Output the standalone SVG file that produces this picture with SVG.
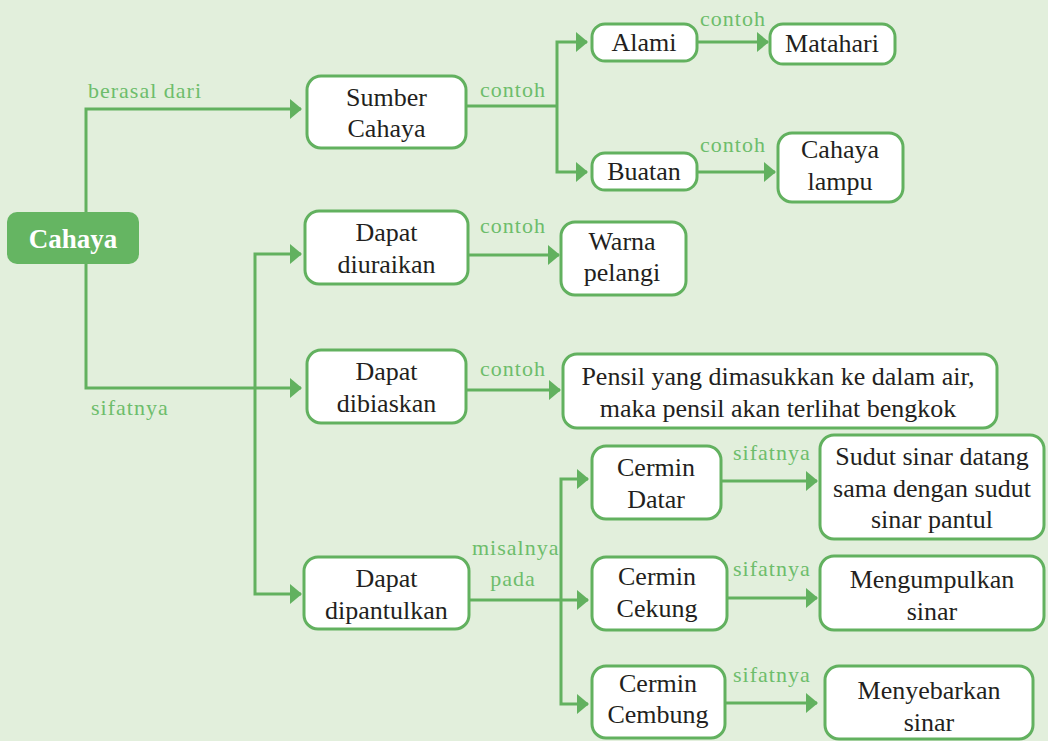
<svg xmlns="http://www.w3.org/2000/svg" width="1048" height="741" viewBox="0 0 1048 741">
<style>
.n rect{fill:#ffffff;stroke:#62b15f;stroke-width:3}
.n text{font-size:26px;fill:#231f20;text-anchor:middle}
.c path{fill:none;stroke:#62b15f;stroke-width:3}
.l{font-family:'Liberation Serif',serif;font-size:22px;fill:#6dbd6b;letter-spacing:1px}
</style>
<defs>
<marker id="ah" markerUnits="userSpaceOnUse" markerWidth="12" markerHeight="20" refX="11" refY="10" orient="auto-start-reverse" viewBox="0 0 12 20">
<path d="M0,0 L12,10 L0,20 z" fill="#62b15f"/>
</marker>
</defs>
<rect width="1048" height="741" fill="#e2efdc"/>
<g id="connectors" class="c">
<path d="M86,212 V109 H301" marker-end="url(#ah)"/>
<path d="M86,264 V388 H301" marker-end="url(#ah)"/>
<path d="M301,254 H255 V594 H301" marker-start="url(#ah)" marker-end="url(#ah)"/>
<path d="M466,106 H557"/>
<path d="M587,42 H557 V172 H587" marker-start="url(#ah)" marker-end="url(#ah)"/>
<path d="M697,42 H768" marker-end="url(#ah)"/>
<path d="M697,172 H775" marker-end="url(#ah)"/>
<path d="M468,255 H559" marker-end="url(#ah)"/>
<path d="M466,390 H560" marker-end="url(#ah)"/>
<path d="M469,600 H588" marker-end="url(#ah)"/>
<path d="M588,479 H561 V704 H588" marker-start="url(#ah)" marker-end="url(#ah)"/>
<path d="M721,481 H817" marker-end="url(#ah)"/>
<path d="M727,598 H817" marker-end="url(#ah)"/>
<path d="M725,703 H817" marker-end="url(#ah)"/>
</g>
<g id="labels">
<text class="l" x="88" y="98">berasal dari</text>
<text class="l" x="91" y="415">sifatnya</text>
<text class="l" x="480" y="97">contoh</text>
<text class="l" x="700" y="26">contoh</text>
<text class="l" x="700" y="152">contoh</text>
<text class="l" x="480" y="233">contoh</text>
<text class="l" x="480" y="376">contoh</text>
<text class="l" x="472" y="555">misalnya</text>
<text class="l" x="513" y="586" text-anchor="middle">pada</text>
<text class="l" x="733" y="460">sifatnya</text>
<text class="l" x="733" y="576">sifatnya</text>
<text class="l" x="733" y="682">sifatnya</text>
</g>
<g id="cahaya">
<rect x="7" y="212" width="132" height="52" rx="10" fill="#65b562"/>
<text x="73" y="248" font-family="Liberation Serif" font-size="27" font-weight="bold" fill="#ffffff" text-anchor="middle">Cahaya</text>
</g>
<g font-family="Liberation Serif">
<g id="sumber" class="n"><rect x="307" y="76" width="159" height="72" rx="14"/><text x="386.5" y="106">Sumber</text><text x="386.5" y="137">Cahaya</text></g>
<g id="alami" class="n"><rect x="592" y="24" width="105" height="37" rx="13"/><text x="644" y="51">Alami</text></g>
<g id="matahari" class="n"><rect x="770" y="24" width="125" height="40" rx="13"/><text x="832" y="52">Matahari</text></g>
<g id="buatan" class="n"><rect x="592" y="153" width="105" height="37" rx="13"/><text x="644" y="180">Buatan</text></g>
<g id="cahaya-lampu" class="n"><rect x="778" y="133" width="125" height="69" rx="14"/><text x="840" y="158">Cahaya</text><text x="840" y="190">lampu</text></g>
<g id="diuraikan" class="n"><rect x="305" y="211" width="163" height="73" rx="14"/><text x="386.5" y="241">Dapat</text><text x="386.5" y="273">diuraikan</text></g>
<g id="warna" class="n"><rect x="561" y="222" width="125" height="73" rx="14"/><text x="622" y="250">Warna</text><text x="622" y="281">pelangi</text></g>
<g id="dibiaskan" class="n"><rect x="307" y="350" width="159" height="73" rx="14"/><text x="386.5" y="380">Dapat</text><text x="386.5" y="412">dibiaskan</text></g>
<g id="pensil" class="n"><rect x="563" y="354" width="434" height="74" rx="14"/><text x="778" y="385">Pensil yang dimasukkan ke dalam air,</text><text x="778" y="417">maka pensil akan terlihat bengkok</text></g>
<g id="dipantulkan" class="n"><rect x="304" y="557" width="165" height="72" rx="14"/><text x="386.5" y="587">Dapat</text><text x="386.5" y="619">dipantulkan</text></g>
<g id="cermin-datar" class="n"><rect x="592" y="446" width="129" height="73" rx="14"/><text x="656" y="476">Cermin</text><text x="656" y="508">Datar</text></g>
<g id="sudut" class="n"><rect x="820" y="435" width="224" height="104" rx="14"/><text x="932" y="465">Sudut sinar datang</text><text x="932" y="497">sama dengan sudut</text><text x="932" y="528">sinar pantul</text></g>
<g id="cermin-cekung" class="n"><rect x="592" y="557" width="135" height="73" rx="14"/><text x="657" y="585">Cermin</text><text x="657" y="617">Cekung</text></g>
<g id="mengumpulkan" class="n"><rect x="820" y="556" width="224" height="74" rx="14"/><text x="932" y="588">Mengumpulkan</text><text x="932" y="620">sinar</text></g>
<g id="cermin-cembung" class="n"><rect x="592" y="666" width="133" height="72" rx="14"/><text x="658" y="692">Cermin</text><text x="658" y="723">Cembung</text></g>
<g id="menyebarkan" class="n"><rect x="825" y="666" width="208" height="73" rx="14"/><text x="929" y="699">Menyebarkan</text><text x="929" y="731">sinar</text></g>
</g>
</svg>
